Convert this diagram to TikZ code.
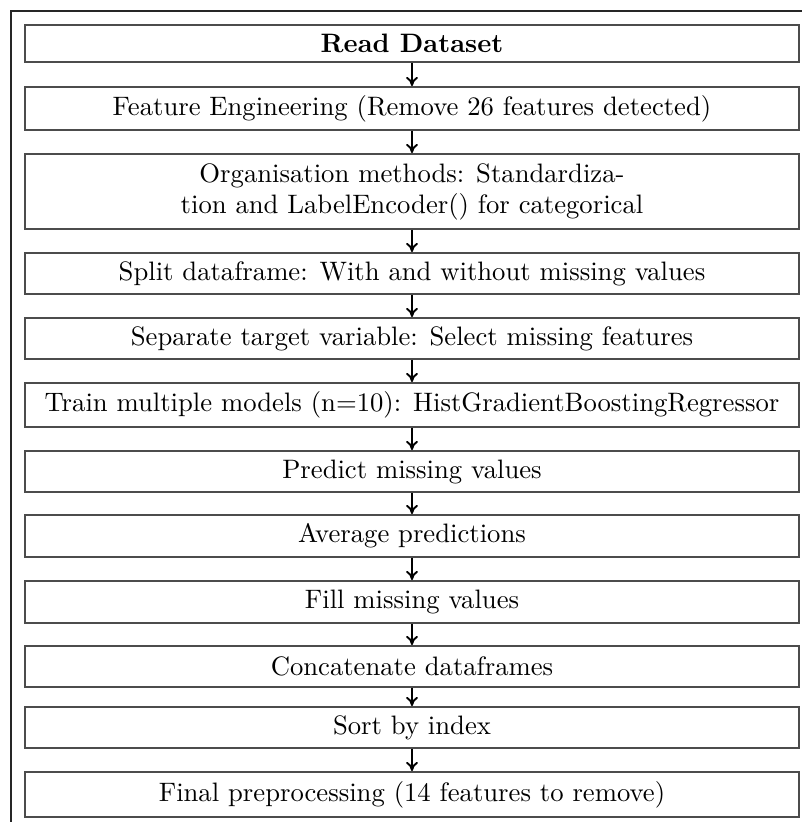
\documentclass[tikz,border=0pt]{standalone}
\usetikzlibrary{arrows.meta}
\begin{document}
\begin{tikzpicture}[x=0.3937pt,y=-0.3937pt,
  stepbox/.style={draw=black!70, line width=0.75pt, rectangle, inner sep=0pt,
    minimum width=774*0.3937pt, align=center, font=\fontsize{10.5}{12.2}\selectfont},
  arr/.style={-{To[length=3.6pt,width=4.6pt]}, line width=0.75pt, black}]
\useasboundingbox (0,0) rectangle (802,822);
\clip (0,0) rectangle (802,822);
\draw[black!85, line width=0.85pt] (11,11) rectangle (830,850);
\node[stepbox, minimum height=37*0.3937pt] (b1) at (412,43.5) {\textbf{Read Dataset}};
\node[stepbox, minimum height=43*0.3937pt] (b2) at (412,108.5) {Feature Engineering (Remove 26 features detected)};
\node[stepbox, minimum height=75*0.3937pt] (b3) at (412,191.5) {Organisation methods: Standardiza-\\tion and LabelEncoder() for categorical};
\node[stepbox, minimum height=41*0.3937pt] (b4) at (412,273.5) {Split dataframe: With and without missing values};
\node[stepbox, minimum height=41*0.3937pt] (b5) at (412,338.5) {Separate target variable: Select missing features};
\node[stepbox, minimum height=44*0.3937pt] (b6) at (412,405) {Train multiple models (n=10): HistGradientBoostingRegressor};
\node[stepbox, minimum height=41*0.3937pt] (b7) at (412,471.5) {Predict missing values};
\node[stepbox, minimum height=42*0.3937pt] (b8) at (412,536) {Average predictions};
\node[stepbox, minimum height=42*0.3937pt] (b9) at (412,602) {Fill missing values};
\node[stepbox, minimum height=41*0.3937pt] (b10) at (412,666.5) {Concatenate dataframes};
\node[stepbox, minimum height=41*0.3937pt] (b11) at (412,727.5) {Sort by index};
\node[stepbox, minimum height=45*0.3937pt] (b12) at (412,794.5) {Final preprocessing (14 features to remove)};
\foreach \a/\b in {b1/b2,b2/b3,b3/b4,b4/b5,b5/b6,b6/b7,b7/b8,b8/b9,b9/b10,b10/b11,b11/b12}
  \draw[arr] (\a) -- (\b);
\end{tikzpicture}
\end{document}
